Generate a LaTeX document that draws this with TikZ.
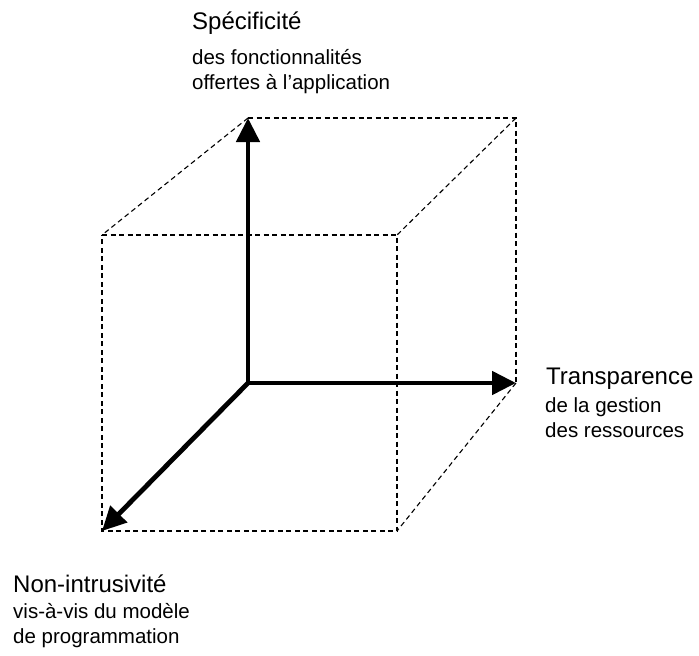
\documentclass[tikz,border=0pt]{standalone}
\usepackage{fontspec}
\setmainfont{Liberation Sans}
\usetikzlibrary{arrows.meta}
\begin{document}
\begin{tikzpicture}[x=1pt,y=-1pt,
  edge/.style={dashed, line width=1.1pt, dash pattern=on 5pt off 3.5pt},
  axis/.style={line width=4.8pt, -{Triangle[length=24pt,width=23pt]}},
  ttl/.style={anchor=base west, inner sep=0pt, font=\fontsize{24}{28}\selectfont},
  sub/.style={anchor=base west, inner sep=0pt, font=\fontsize{20.5}{25}\selectfont}]
\useasboundingbox (0,0) rectangle (699,656);
% corners
\coordinate (O) at (248,383);
\coordinate (BT) at (248,118);
\coordinate (BTR) at (516,118);
\coordinate (BR) at (516,383);
\coordinate (FTL) at (102,235);
\coordinate (FTR) at (397,235);
\coordinate (FBR) at (397,531);
\coordinate (FBL) at (102,531);
% dashed edges
\draw[edge] (BT) -- (BTR) -- (BR);
\draw[edge] (FTL) -- (FTR) -- (FBR) -- (FBL) -- cycle;
\draw[edge] (BT) -- (FTL);
\draw[edge] (BTR) -- (FTR);
\draw[edge] (BR) -- (FBR);
% axes
\draw[axis] (O) -- (BT);
\draw[axis] (O) -- (BR);
\draw[axis] (O) -- (FBL);
% labels
\node[ttl] (t1) at (192,29) {Spécificité};
\node[sub] (t2) at (192,64) {des fonctionnalités};
\node[sub] (t3) at (192,89) {offertes à l’application};
\node[ttl] (r1) at (546,384) {Transparence};
\node[sub] (r2) at (545,412) {de la gestion};
\node[sub] (r3) at (545,437) {des ressources};
\node[ttl] (b1) at (13,592) {Non-intrusivité};
\node[sub] (b2) at (13,618) {vis-à-vis du modèle};
\node[sub] (b3) at (13,643) {de programmation};
\end{tikzpicture}
\end{document}
